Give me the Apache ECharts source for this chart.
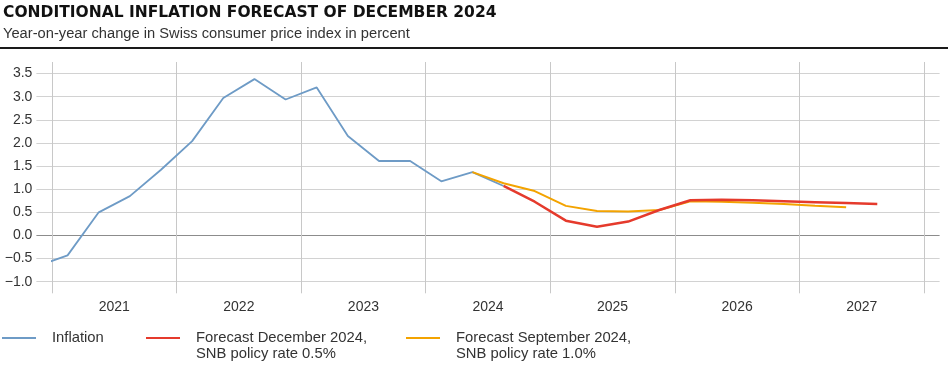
<!DOCTYPE html>
<html><head><meta charset="utf-8">
<script src="https://cdn.jsdelivr.net/npm/echarts@6/dist/echarts.min.js"></script>
<style>html,body{margin:0;padding:0;background:#fff}#c{width:948px;height:366px}</style>
</head><body><div id="c"></div>
<script>
// ---- data ----
const inflationQuarters = ['2020Q4','2021Q1','2021Q2','2021Q3','2021Q4','2022Q1','2022Q2','2022Q3','2022Q4','2023Q1','2023Q2','2023Q3','2023Q4','2024Q1','2024Q2','2024Q3'];
const inflation = [-0.67,-0.43,0.50,0.85,1.42,2.04,2.97,3.38,2.94,3.20,2.15,1.61,1.61,1.17,1.37,1.07];
const decQuarters = ['2024Q3','2024Q4','2025Q1','2025Q2','2025Q3','2025Q4','2026Q1','2026Q2','2026Q3','2026Q4','2027Q1','2027Q2','2027Q3'];
const decForecast = [1.07,0.73,0.32,0.19,0.30,0.55,0.76,0.77,0.76,0.74,0.72,0.70,0.68];
const sepQuarters = ['2024Q2','2024Q3','2024Q4','2025Q1','2025Q2','2025Q3','2025Q4','2026Q1','2026Q2','2026Q3','2026Q4','2027Q1','2027Q2'];
const sepForecast = [1.37,1.13,0.96,0.64,0.53,0.52,0.55,0.74,0.73,0.71,0.68,0.64,0.61];
const yearLabels = ['2021','2022','2023','2024','2025','2026','2027'];
const seriesNames = ['Inflation','Forecast December 2024,\nSNB policy rate 0.5%','Forecast September 2024,\nSNB policy rate 1.0%'];

// ---- helpers ----
const qToX = q => +q.slice(0,4) + (+q.slice(5) - 0.5) / 4;
const pairs = (qs, vs) => qs.map((q, i) => [qToX(q), vs[i]]);

const FONT = 'Liberation Sans';
const TXT = '#333333';
const GRID_C = '#d2d2d2';
const ZERO_C = '#8c8c8c';
const VLINE_C = '#c8c8c8';
const T = 'rgba(0,0,0,0)';

const yMin = -1.25, yMax = 3.75, yStep = 0.25;
const yColors = [];
for (let i = 0; i <= Math.round((yMax - yMin) / yStep); i++) {
  const v = yMin + i * yStep;
  yColors.push(i % 2 === 1 ? (Math.abs(v) < 1e-9 ? ZERO_C : GRID_C) : T);
}
const xColors = [T, VLINE_C, T, T, T, T, T, T];

const firstYear = +yearLabels[0], lastYear = +yearLabels[yearLabels.length - 1] + 1;

const chart = echarts.init(document.getElementById('c'), null, {renderer: 'canvas'});
const mkLegend = (name, left, top, multi) => ({
  data: [name], left: left, top: top, padding: 0, icon: 'rect',
  itemWidth: 34, itemHeight: 2, selectedMode: false,
  formatter: n => multi ? '\n' + n : n,
  textStyle: {fontFamily: FONT, fontSize: 14.8, color: TXT, lineHeight: 16, padding: [0, 0, 0, 11]}
});

chart.setOption({
  animation: false,
  backgroundColor: '#ffffff',
  title: {
    text: 'CONDITIONAL INFLATION FORECAST OF DECEMBER 2024',
    subtext: 'Year-on-year change in Swiss consumer price index in percent',
    left: 3, top: 3, padding: 0, itemGap: 2,
    textStyle: {fontFamily: 'DejaVu Sans', fontWeight: 'bold', fontSize: 15.5, color: '#111', lineHeight: 20},
    subtextStyle: {fontFamily: FONT, fontSize: 14.7, color: TXT, lineHeight: 18}
  },
  graphic: [{
    type: 'line', shape: {x1: 0, y1: 48, x2: 948, y2: 48},
    style: {stroke: '#1a1a1a', lineWidth: 2}, silent: true
  }],
  legend: [
    mkLegend(seriesNames[0], 2, 330, false),
    mkLegend(seriesNames[1], 146, 314, true),
    mkLegend(seriesNames[2], 406, 314, true)
  ],
  grid: [
    {left: 36.4, right: 8.4, top: 62, bottom: 72.7, containLabel: false},
    {left: 52, right: 24, top: 62, bottom: 72.7, containLabel: false}
  ],
  xAxis: [{
    gridIndex: 0, type: 'value', min: firstYear - 0.125, max: lastYear + 0.125, interval: 0.125,
    axisLine: {show: false}, axisTick: {show: false},
    splitLine: {show: true, lineStyle: {color: xColors, width: 1}},
    axisLabel: {
      margin: 7, fontFamily: FONT, fontSize: 14, color: TXT,
      showMinLabel: true, showMaxLabel: true,
      formatter: v => {
        const f = v - Math.floor(v);
        if (Math.abs(f - 0.5) < 1e-6) {
          const s = String(Math.floor(v));
          return yearLabels.includes(s) ? s : '';
        }
        return '';
      }
    }
  }, {
    gridIndex: 1, type: 'value', min: firstYear, max: lastYear, show: false,
    splitLine: {show: false}
  }],
  yAxis: [{
    gridIndex: 0, type: 'value', min: yMin, max: yMax, interval: yStep,
    axisLine: {show: false}, axisTick: {show: false},
    splitLine: {show: true, lineStyle: {color: yColors, width: 1}},
    axisLabel: {
      margin: 4, fontFamily: FONT, fontSize: 14, color: TXT,
      formatter: v => {
        if (Math.abs(v * 2 - Math.round(v * 2)) > 1e-6) return '';
        return v.toFixed(1).replace('-', '\u2212');
      }
    }
  }, {
    gridIndex: 1, type: 'value', min: yMin, max: yMax, show: false,
    splitLine: {show: false}
  }],
  series: [{
    name: seriesNames[0], type: 'line', xAxisIndex: 1, yAxisIndex: 1,
    data: pairs(inflationQuarters, inflation), symbol: 'none', clip: true,
    color: '#6e9bc6', lineStyle: {color: '#6e9bc6', width: 1.8}, z: 3
  }, {
    name: seriesNames[1], type: 'line', xAxisIndex: 1, yAxisIndex: 1,
    data: pairs(decQuarters, decForecast), symbol: 'none', clip: true,
    color: '#e53a2c', lineStyle: {color: '#e53a2c', width: 2.5}, z: 5
  }, {
    name: seriesNames[2], type: 'line', xAxisIndex: 1, yAxisIndex: 1,
    data: pairs(sepQuarters, sepForecast), symbol: 'none', clip: true,
    color: '#f3a300', lineStyle: {color: '#f3a300', width: 2}, z: 4
  }]
});
</script>
</body></html>
